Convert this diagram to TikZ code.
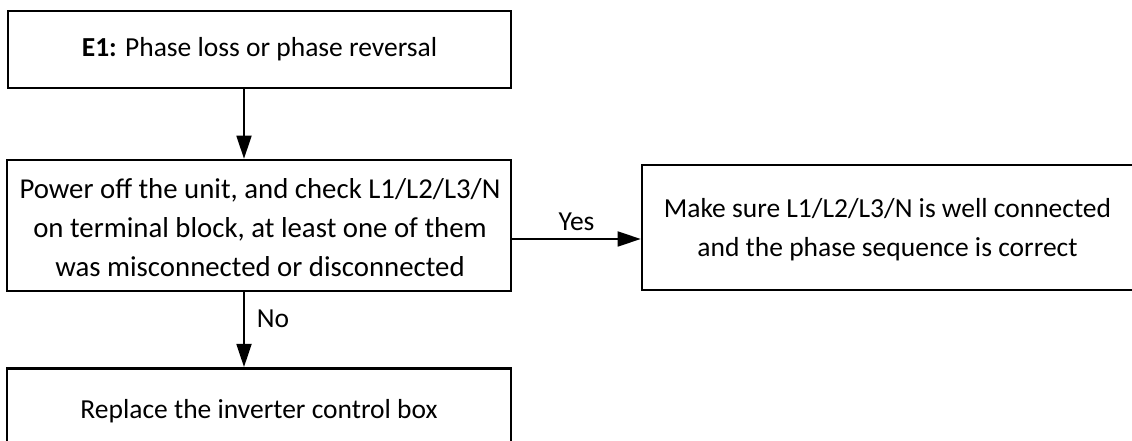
\documentclass[tikz,border=0pt]{standalone}
\usepackage{fontspec}
\setmainfont{Carlito}
\usetikzlibrary{arrows.meta}
\begin{document}
\begin{tikzpicture}[x=1bp,y=-1bp,
  flowbox/.style={draw=black, line width=2.6bp, align=center, inner sep=0pt,
    font=\fontsize{27.5bp}{39bp}\selectfont},
  plaintext/.style={align=center, inner sep=0pt, font=\fontsize{27.5bp}{39bp}\selectfont},
  arr/.style={line width=1.8bp, -{Triangle[length=23bp,width=15bp]}},
  lbl/.style={font=\fontsize{27.5bp}{30bp}\selectfont, inner sep=0pt}]
\useasboundingbox (0,0) rectangle (1132,441);
\node[flowbox, minimum width=503bp, minimum height=77bp] (b1) at (259.5,49.5)
  {\textbf{E1:} Phase loss or phase reversal};
\node[flowbox, minimum width=504bp, minimum height=131bp] (b2) at (259,225.5) {};
\node[plaintext, font=\fontsize{28.8bp}{39bp}\selectfont] (t2) at (260,228)
  {Power off the unit, and check L1/L2/L3/N\\on terminal block, at least one of them\\was misconnected or disconnected};
\node[flowbox, minimum width=491bp, minimum height=125bp] (b3) at (887.5,227.5) {};
\node[plaintext] (t3) at (887.5,230)
  {Make sure L1/L2/L3/N is well connected\\and the phase sequence is correct};
\node[flowbox, minimum width=504bp, minimum height=120bp, anchor=north] (b4) at (259,367) {};
\node[plaintext] (t4) at (259,411) {Replace the inverter control box};
\coordinate (vx) at (244,0);
\coordinate (hy) at (0,239);
\draw[arr] (b1.south -| vx) -- (b2.north -| vx);
\draw[arr] (b2.east |- hy) -- (b3.west |- hy) node[lbl, midway, above=7bp] (yes) {Yes};
\draw[arr] (b2.south -| vx) -- (b4.north -| vx) node[lbl, pos=0.35, right=12bp] (no) {No};
\end{tikzpicture}
\end{document}
